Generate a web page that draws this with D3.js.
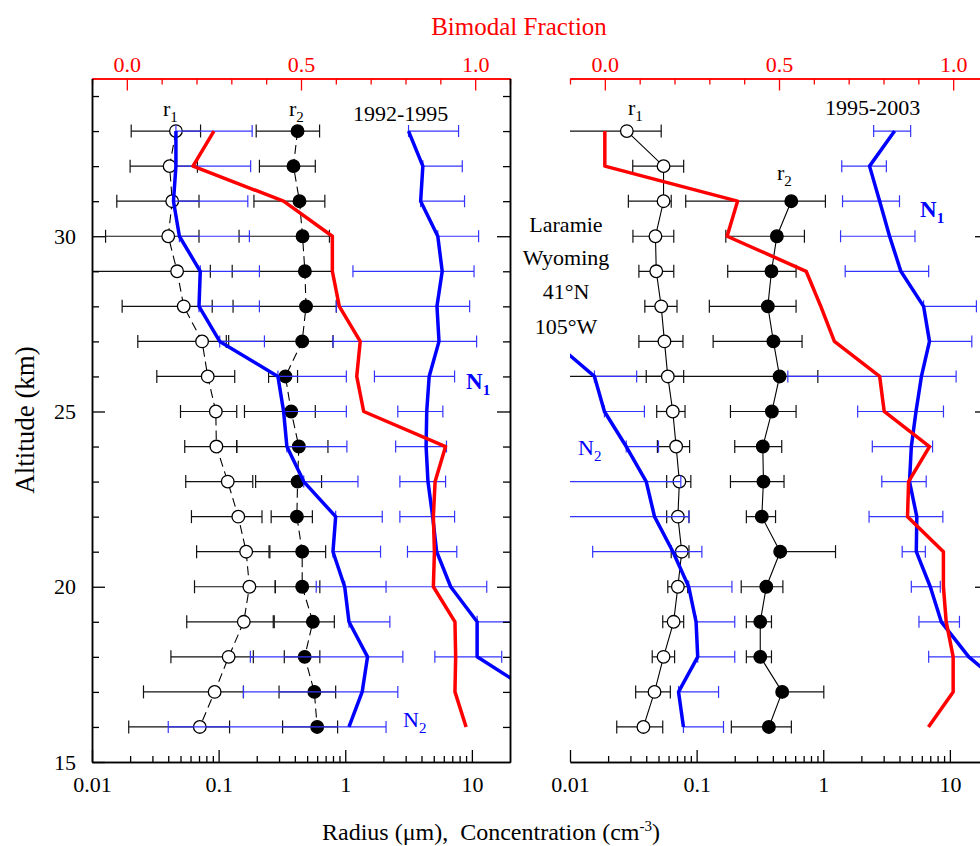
<!DOCTYPE html>
<html>
<head>
<meta charset="utf-8">
<script src="https://cdn.jsdelivr.net/npm/d3@7"></script>
<style>
  body { margin: 0; background: #fff; }
  svg text { font-family: "Liberation Serif", "Times New Roman", serif; }
</style>
</head>
<body>
<svg id="chart" width="980" height="846"></svg>
<script>
// Altitude levels (km), top to bottom
const altitudes = [33, 32, 31, 30, 29, 28, 27, 26, 25, 24, 23, 22, 21, 20, 19, 18, 17, 16];
const xTickValues = [0.01, 0.1, 1, 10];
const xTickLabels = ['0.01', '0.1', '1', '10'];
const fracTickValues = [0, 0.5, 1];
const fracTickLabels = ['0.0', '0.5', '1.0'];
const altTickValues = [15, 20, 25, 30];

// ---- 1992-1995 ----
const r1A   = [0.046, 0.041, 0.043, 0.040, 0.047, 0.053, 0.074, 0.082, 0.095, 0.096, 0.118, 0.143, 0.165, 0.175, 0.158, 0.120, 0.093, 0.071];
const r1LoA = [0.0204, 0.020, 0.0157, 0.0128, 0.008, 0.0173, 0.023, 0.0325, 0.050, 0.054, 0.055, 0.061, 0.067, 0.0645, 0.056, 0.042, 0.0255, 0.0195];
const r1HiA = [0.072, 0.068, 0.070, 0.070, 0.086, 0.089, 0.115, 0.134, 0.139, 0.139, 0.186, 0.22, 0.25, 0.28, 0.27, 0.188, 0.157, 0.122];
const r2A   = [0.42, 0.39, 0.435, 0.46, 0.48, 0.49, 0.457, 0.337, 0.374, 0.43, 0.42, 0.415, 0.457, 0.457, 0.555, 0.478, 0.57, 0.60];
const r2LoA = [0.198, 0.21, 0.19, 0.145, 0.128, 0.13, 0.12, 0.248, 0.16, 0.139, 0.196, 0.26, 0.254, 0.28, 0.275, 0.33, 0.30, 0.32];
const r2HiA = [0.627, 0.58, 0.69, 0.75, 0.80, 0.85, 0.80, 0.42, 0.58, 0.73, 0.65, 0.55, 0.70, 0.63, 0.82, 0.63, 0.84, 0.87];
const n1A   = [3.16, 4.1, 3.94, 5.38, 5.83, 5.3, 5.5, 4.6, 4.4, 4.35, 4.5, 4.9, 5.27, 6.8, 11, 11, 30, null];
const n1LoA = [3.16, 4.1, 3.94, 5.38, 1.15, 0.85, 0.8, 1.7, 2.6, 2.5, 2.7, 2.7, 3.1, 0.59, 11, 5.1, null, null];
const n1HiA = [7.85, 8.4, 8.75, 11.3, 10.4, 9.6, 10.9, 7.3, 5.9, 6.3, 6.2, 7.3, 7.6, 13.1, 25, 17.2, null, null];
const n2A   = [0.046, 0.046, 0.044, 0.049, 0.0716, 0.070, 0.102, 0.294, 0.326, 0.346, 0.47, 0.84, 0.80, 0.99, 1.07, 1.5, 1.36, 1.07];
const n2LoA = [0.046, 0.046, 0.044, 0.049, 0.0716, 0.070, 0.102, 0.294, 0.326, 0.346, 0.47, 0.84, 0.80, 0.99, 1.07, 0.178, 0.157, 0.04];
const n2HiA = [0.184, 0.179, 0.17, 0.175, 0.21, 0.21, 0.23, 1.02, 1.02, 1.03, 1.26, 1.96, 1.9, 2.1, 2.25, 2.85, 2.6, 2.1];
const fracA = [0.25, 0.19, 0.45, 0.59, 0.59, 0.61, 0.67, 0.66, 0.68, 0.915, 0.885, 0.88, 0.883, 0.88, 0.942, 0.944, 0.942, 0.974];

// ---- 1995-2003 ----
const r1B   = [0.0281, 0.0548, 0.0548, 0.0473, 0.048, 0.0525, 0.0557, 0.0592, 0.0648, 0.0689, 0.0731, 0.0711, 0.0763, 0.0711, 0.0658, 0.0548, 0.0465, 0.038];
const r1LoB = [0.008, 0.0313, 0.0289, 0.0314, 0.035, 0.039, 0.035, 0.040, 0.0484, 0.049, 0.058, 0.058, 0.063, 0.0592, 0.054, 0.0446, 0.033, 0.0234];
const r1HiB = [0.0525, 0.079, 0.063, 0.066, 0.066, 0.070, 0.078, 0.079, 0.081, 0.088, 0.090, 0.087, 0.087, 0.085, 0.079, 0.067, 0.062, 0.054];
const r2B   = [null, null, 0.559, 0.43, 0.39, 0.365, 0.404, 0.452, 0.393, 0.333, 0.337, 0.327, 0.457, 0.355, 0.318, 0.318, 0.474, 0.372];
const r2LoB = [null, null, 0.082, 0.17, 0.176, 0.126, 0.135, 0.008, 0.185, 0.2, 0.185, 0.247, 0.457, 0.225, 0.247, 0.247, 0.474, 0.188];
const r2HiB = [null, null, 1.04, 0.71, 0.61, 0.61, 0.68, 0.906, 0.61, 0.47, 0.49, 0.42, 1.25, 0.48, 0.39, 0.39, 1.01, 0.56];
const n1B   = [3.66, 2.32, 2.79, 3.34, 4.1, 6.2, 6.9, 5.96, 5.4, 4.96, 4.8, 5.48, 5.43, 7.0, 8.55, 14.1, 30, null];
const n1LoB = [2.5, 1.4, 1.42, 1.37, 1.49, 6.2, 6.9, 0.525, 1.87, 2.44, 2.9, 2.3, 4.2, 4.96, 5.7, 6.8, null, null];
const n1HiB = [4.9, 3.15, 4.0, 5.3, 6.8, 16.2, 14.9, 11.2, 8.9, 7.3, 6.5, 8.8, 6.4, 8.4, 11.9, 25, null, null];
const n2B   = [null, null, null, null, null, null, 0.0074, 0.0156, 0.0187, 0.0278, 0.040, 0.0465, 0.065, 0.0866, 0.099, 0.102, 0.072, 0.0787];
const n2LoB = [null, null, null, null, null, null, null, 0.0156, 0.0187, 0.0278, 0.008, 0.008, 0.0151, 0.0866, 0.099, 0.102, 0.072, 0.0787];
const n2HiB = [null, null, null, null, null, null, null, 0.0336, 0.0387, 0.050, 0.075, 0.087, 0.11, 0.19, 0.2, 0.2, 0.149, 0.163];
const fracB = [0.0, 0.0, 0.381, 0.351, 0.578, 0.62, 0.659, 0.789, 0.802, 0.932, 0.872, 0.869, 0.972, 0.972, 0.98, 1.0, 1.0, 0.929];

const FONT = '"Liberation Serif", "Times New Roman", serif';
const RED = '#ff0000', BLUE = '#0000ff', BAR_BLUE = '#3434ff';
const W = 418;

const svg = d3.select('#chart');
svg.append('rect').attr('width', 980).attr('height', 846).attr('fill', '#fff');
const defs = svg.append('defs');

const yAlt = d3.scaleLinear().domain([15, 34.5]).range([762, 78.5]);

function styleAxis(g, color) {
  g.attr('font-family', FONT).attr('font-size', 22);
  g.select('.domain').attr('stroke', color).attr('stroke-width', 1.5);
  g.selectAll('.tick line').attr('stroke', color).attr('stroke-width', 1.3);
  g.selectAll('.tick text').attr('fill', color);
}

// horizontal error bars with end caps
function errBars(layer, x, lo, hi, color, cap) {
  const rows = altitudes.map((a, i) => ({ alt: a, lo: lo[i], hi: hi[i] }))
    .filter(d => d.lo != null && d.hi != null);
  const grp = layer.append('g').attr('stroke', color).attr('stroke-width', 1.2).attr('fill', 'none');
  rows.forEach(d => {
    const yy = yAlt(d.alt);
    grp.append('line').attr('x1', x(d.lo)).attr('x2', x(d.hi)).attr('y1', yy).attr('y2', yy);
    grp.append('line').attr('x1', x(d.lo)).attr('x2', x(d.lo)).attr('y1', yy - cap).attr('y2', yy + cap);
    grp.append('line').attr('x1', x(d.hi)).attr('x2', x(d.hi)).attr('y1', yy - cap).attr('y2', yy + cap);
  });
}

function drawPanel(cfg) {
  const x = d3.scaleLog().domain([0.01, 20]).range([cfg.x0, cfg.x0 + W]);
  const xf = d3.scaleLinear().domain([-0.1, 1.1]).range([cfg.x0, cfg.x0 + W]);
  const clipId = 'clip-' + cfg.id;
  defs.append('clipPath').attr('id', clipId).append('rect')
    .attr('x', cfg.x0).attr('y', yAlt(34.5))
    .attr('width', W).attr('height', yAlt(15) - yAlt(34.5));
  const plot = svg.append('g').attr('clip-path', `url(#${clipId})`);

  const pts = arr => altitudes.map((a, i) => ({ alt: a, v: arr[i] }));
  const line = d3.line().defined(d => d.v != null).x(d => x(d.v)).y(d => yAlt(d.alt));

  // r1 / r2 connecting lines
  [cfg.r1, cfg.r2].forEach(arr => {
    plot.append('path').datum(pts(arr)).attr('d', line)
      .attr('fill', 'none').attr('stroke', '#000').attr('stroke-width', 1.1)
      .attr('stroke-dasharray', cfg.dashed ? '9,5' : null);
  });

  errBars(plot, x, cfg.r1Lo, cfg.r1Hi, '#111', 6.5);
  errBars(plot, x, cfg.r2Lo, cfg.r2Hi, '#111', 6.5);

  plot.append('g').selectAll('circle').data(pts(cfg.r1).filter(d => d.v != null)).join('circle')
    .attr('cx', d => x(d.v)).attr('cy', d => yAlt(d.alt)).attr('r', 6.3)
    .attr('fill', '#fff').attr('stroke', '#000').attr('stroke-width', 1.3);
  plot.append('g').selectAll('circle').data(pts(cfg.r2).filter(d => d.v != null)).join('circle')
    .attr('cx', d => x(d.v)).attr('cy', d => yAlt(d.alt)).attr('r', 6.3)
    .attr('fill', '#000').attr('stroke', '#000').attr('stroke-width', 1.3);

  errBars(plot, x, cfg.n2Lo, cfg.n2Hi, BAR_BLUE, 6);
  errBars(plot, x, cfg.n1Lo, cfg.n1Hi, BAR_BLUE, 6);

  [cfg.n1, cfg.n2].forEach(arr => {
    plot.append('path').datum(pts(arr)).attr('d', line)
      .attr('fill', 'none').attr('stroke', BLUE).attr('stroke-width', 3.5)
      .attr('stroke-linejoin', 'round');
  });

  const fracLine = d3.line().x(d => xf(d.v)).y(d => yAlt(d.alt));
  plot.append('path').datum(pts(cfg.frac)).attr('d', fracLine)
    .attr('fill', 'none').attr('stroke', RED).attr('stroke-width', 3.5)
    .attr('stroke-linejoin', 'round');

  // bottom axis (log)
  const minors = [];
  [0.01, 0.1, 1].forEach(dec => { for (let k = 2; k <= 9; k++) minors.push(dec * k); });
  const bMinor = svg.append('g').attr('transform', `translate(0,${yAlt(15)})`)
    .call(d3.axisBottom(x).tickValues(minors).tickSize(-6).tickSizeOuter(0).tickFormat(''));
  styleAxis(bMinor, '#000');
  const bMajor = svg.append('g').attr('transform', `translate(0,${yAlt(15)})`)
    .call(d3.axisBottom(x).tickValues(xTickValues).tickSize(-12).tickSizeOuter(0)
      .tickPadding(14).tickFormat((d, i) => xTickLabels[i]));
  styleAxis(bMajor, '#000');

  // top axis (bimodal fraction)
  const fMinor = d3.range(-1, 12).map(k => k / 10).filter(v => ![0, 5, 10].includes(Math.round(v * 10)));
  const tMinor = svg.append('g').attr('transform', `translate(0,${yAlt(34.5)})`)
    .call(d3.axisTop(xf).tickValues(fMinor).tickSize(-6).tickSizeOuter(0).tickFormat(''));
  styleAxis(tMinor, RED);
  const tMajor = svg.append('g').attr('transform', `translate(0,${yAlt(34.5)})`)
    .call(d3.axisTop(xf).tickValues(fracTickValues).tickSize(-12).tickSizeOuter(0)
      .tickPadding(7).tickFormat((d, i) => fracTickLabels[i]));
  styleAxis(tMajor, RED);

  const kmMinor = d3.range(16, 35).filter(v => v % 5 !== 0);
  if (cfg.leftAxis) {
    const lMinor = svg.append('g').attr('transform', `translate(${cfg.x0},0)`)
      .call(d3.axisLeft(yAlt).tickValues(kmMinor).tickSize(-7).tickSizeOuter(0).tickFormat(''));
    styleAxis(lMinor, '#000');
    const lMajor = svg.append('g').attr('transform', `translate(${cfg.x0},0)`)
      .call(d3.axisLeft(yAlt).tickValues(altTickValues).tickSize(-13).tickSizeOuter(0)
        .tickPadding(16).tickFormat(d3.format('d')));
    styleAxis(lMajor, '#000');
  }
  const rMinor = svg.append('g').attr('transform', `translate(${cfg.x0 + W},0)`)
    .call(d3.axisRight(yAlt).tickValues(kmMinor).tickSize(-7).tickSizeOuter(0).tickFormat(''));
  styleAxis(rMinor, '#000');
  const rMajor = svg.append('g').attr('transform', `translate(${cfg.x0 + W},0)`)
    .call(d3.axisRight(yAlt).tickValues(altTickValues.slice(1)).tickSize(-13).tickSizeOuter(0).tickFormat(''));
  styleAxis(rMajor, '#000');

  // in-panel labels
  cfg.labels.forEach(l => {
    const t = svg.append('text').attr('x', l.x).attr('y', l.y)
      .attr('font-size', l.size || 22).attr('fill', l.color || '#000')
      .attr('font-weight', l.bold ? 'bold' : null)
      .attr('text-anchor', l.anchor || 'start');
    t.append('tspan').text(l.text);
    if (l.sub) t.append('tspan').attr('dy', 6).attr('font-size', 15).text(l.sub);
  });
}

drawPanel({
  id: 'a', x0: 92, dashed: true, leftAxis: true,
  r1: r1A, r1Lo: r1LoA, r1Hi: r1HiA, r2: r2A, r2Lo: r2LoA, r2Hi: r2HiA,
  n1: n1A, n1Lo: n1LoA, n1Hi: n1HiA, n2: n2A, n2Lo: n2LoA, n2Hi: n2HiA, frac: fracA,
  labels: [
    { text: 'r', sub: '1', x: 163, y: 116 },
    { text: 'r', sub: '2', x: 289, y: 116 },
    { text: '1992-1995', x: 353, y: 121 },
    { text: 'N', sub: '1', x: 466, y: 389, color: BLUE, bold: true, size: 23 },
    { text: 'N', sub: '2', x: 403, y: 727, color: BLUE }
  ]
});

drawPanel({
  id: 'b', x0: 570, dashed: false, leftAxis: false,
  r1: r1B, r1Lo: r1LoB, r1Hi: r1HiB, r2: r2B, r2Lo: r2LoB, r2Hi: r2HiB,
  n1: n1B, n1Lo: n1LoB, n1Hi: n1HiB, n2: n2B, n2Lo: n2LoB, n2Hi: n2HiB, frac: fracB,
  labels: [
    { text: 'r', sub: '1', x: 628, y: 115 },
    { text: 'r', sub: '2', x: 777, y: 180 },
    { text: '1995-2003', x: 825, y: 115 },
    { text: 'N', sub: '1', x: 920, y: 217, color: BLUE, bold: true, size: 23 },
    { text: 'N', sub: '2', x: 578, y: 455, color: BLUE },
    { text: 'Laramie', x: 566, y: 232, anchor: 'middle' },
    { text: 'Wyoming', x: 566, y: 265, anchor: 'middle' },
    { text: '41°N', x: 566, y: 299, anchor: 'middle' },
    { text: '105°W', x: 566, y: 334, anchor: 'middle' }
  ]
});

// titles
svg.append('text').attr('x', 519).attr('y', 35).attr('text-anchor', 'middle')
  .attr('font-size', 25).attr('fill', RED).text('Bimodal Fraction');

svg.append('text').attr('transform', 'translate(34,420) rotate(-90)')
  .attr('text-anchor', 'middle').attr('font-size', 27).text('Altitude (km)');

const xt = svg.append('text').attr('x', 491).attr('y', 840).attr('text-anchor', 'middle')
  .attr('font-size', 24).attr('xml:space', 'preserve');
xt.append('tspan').text('Radius (\u03bcm),  Concentration (cm');
xt.append('tspan').attr('dy', -9).attr('font-size', 15).text('-3');
xt.append('tspan').attr('dy', 9).text(')');
</script>
</body>
</html>
